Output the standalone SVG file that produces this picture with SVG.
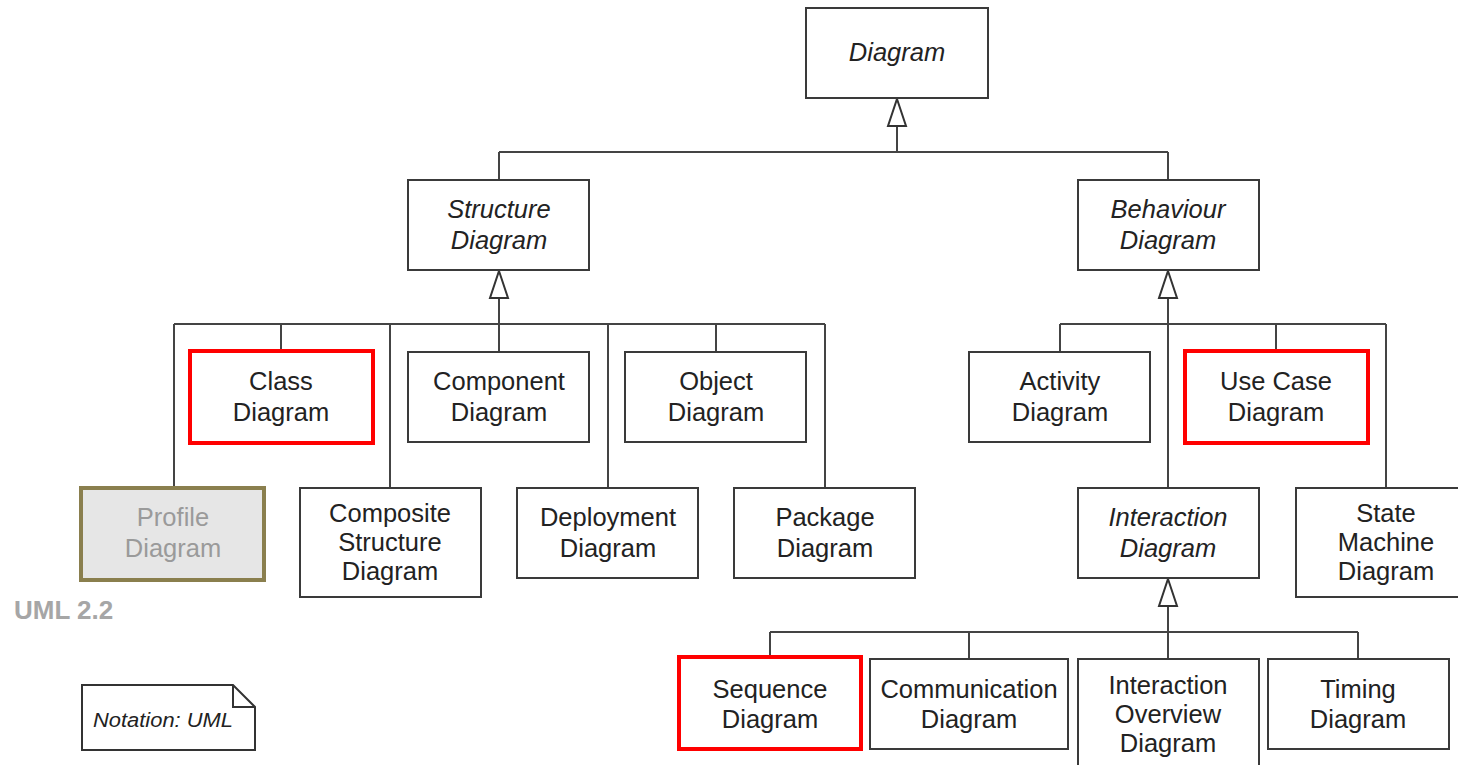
<svg xmlns="http://www.w3.org/2000/svg" width="1458" height="765" viewBox="0 0 1458 765">
<style>
.b{fill:#fff;stroke:#3a3a3a;stroke-width:2}
.r{fill:#fff;stroke:#f00;stroke-width:4}
.t{font-family:"Liberation Sans",Arial,sans-serif;font-size:25.5px;fill:#222;text-anchor:middle}
.i{font-style:italic}
.c{fill:none;stroke:#444;stroke-width:2}
.h{fill:#fff;stroke:#333;stroke-width:2}
</style>
<rect width="1458" height="765" fill="#fff"/>
<g id="connectors">
<path class="c" d="M897 126V152M499 152H1168M499 152V180M1168 152V180"/>
<path class="h" d="M897 99L906 126H888Z"/>
<path class="c" d="M499 298V324M174 324H825M174 324V488M281 324V351M390 324V488M499 324V352M608 324V488M716 324V352M825 324V488"/>
<path class="h" d="M499 271L508 298H490Z"/>
<path class="c" d="M1168 298V488M1060 324H1386M1060 324V352M1276 324V351M1386 324V488"/>
<path class="h" d="M1168 271L1177 298H1159Z"/>
<path class="c" d="M1168 606V659M770 632H1358M770 632V657M969 632V659M1358 632V659"/>
<path class="h" d="M1168 579L1177 606H1159Z"/>
</g>
<g id="diagram"><rect class="b" x="806" y="8" width="182" height="90"/><text class="t i" x="897" y="61">Diagram</text></g>
<g id="structure"><rect class="b" x="408" y="180" width="181" height="90"/><text class="t i" x="499" y="218">Structure</text><text class="t i" x="499" y="249">Diagram</text></g>
<g id="behaviour"><rect class="b" x="1078" y="180" width="181" height="90"/><text class="t i" x="1168" y="218">Behaviour</text><text class="t i" x="1168" y="249">Diagram</text></g>
<g id="class"><rect class="r" x="190" y="351" width="183" height="92"/><text class="t" x="281" y="390">Class</text><text class="t" x="281" y="421">Diagram</text></g>
<g id="component"><rect class="b" x="408" y="352" width="181" height="90"/><text class="t" x="499" y="390">Component</text><text class="t" x="499" y="421">Diagram</text></g>
<g id="object"><rect class="b" x="625" y="352" width="181" height="90"/><text class="t" x="716" y="390">Object</text><text class="t" x="716" y="421">Diagram</text></g>
<g id="profile"><rect x="81" y="488" width="183" height="92" fill="#e6e6e6" stroke="#8a7f4e" stroke-width="4"/><text class="t" style="fill:#9a9a9a" x="173" y="526">Profile</text><text class="t" style="fill:#9a9a9a" x="173" y="557">Diagram</text></g>
<g id="composite"><rect class="b" x="300" y="488" width="181" height="109"/><text class="t" x="390" y="522">Composite</text><text class="t" x="390" y="551">Structure</text><text class="t" x="390" y="580">Diagram</text></g>
<g id="deployment"><rect class="b" x="517" y="488" width="181" height="90"/><text class="t" x="608" y="526">Deployment</text><text class="t" x="608" y="557">Diagram</text></g>
<g id="package"><rect class="b" x="734" y="488" width="181" height="90"/><text class="t" x="825" y="526">Package</text><text class="t" x="825" y="557">Diagram</text></g>
<g id="activity"><rect class="b" x="969" y="352" width="181" height="90"/><text class="t" x="1060" y="390">Activity</text><text class="t" x="1060" y="421">Diagram</text></g>
<g id="usecase"><rect class="r" x="1185" y="351" width="183" height="92"/><text class="t" x="1276" y="390">Use Case</text><text class="t" x="1276" y="421">Diagram</text></g>
<g id="interaction"><rect class="b" x="1078" y="488" width="181" height="90"/><text class="t i" x="1168" y="526">Interaction</text><text class="t i" x="1168" y="557">Diagram</text></g>
<g id="statemachine"><rect class="b" x="1296" y="488" width="170" height="109"/><text class="t" x="1386" y="522">State</text><text class="t" x="1386" y="551">Machine</text><text class="t" x="1386" y="580">Diagram</text></g>
<g id="sequence"><rect class="r" x="679" y="657" width="182" height="92"/><text class="t" x="770" y="698">Sequence</text><text class="t" x="770" y="728">Diagram</text></g>
<g id="communication"><rect class="b" x="870" y="659" width="198" height="90"/><text class="t" x="969" y="698">Communication</text><text class="t" x="969" y="728">Diagram</text></g>
<g id="overview"><rect class="b" x="1078" y="659" width="181" height="120"/><text class="t" x="1168" y="694">Interaction</text><text class="t" x="1168" y="723">Overview</text><text class="t" x="1168" y="752">Diagram</text></g>
<g id="timing"><rect class="b" x="1268" y="659" width="181" height="90"/><text class="t" x="1358" y="698">Timing</text><text class="t" x="1358" y="728">Diagram</text></g>
<g id="uml22"><text x="14" y="619" font-family="Liberation Sans,Arial,sans-serif" font-size="26" font-weight="bold" fill="#a6a6a6">UML 2.2</text></g>
<g id="note"><path d="M82 685H233L255 707V750H82Z" fill="#fff" stroke="#333" stroke-width="2"/><path d="M233 685V707H255" fill="none" stroke="#333" stroke-width="2"/><text x="93" y="727" font-family="Liberation Sans,Arial,sans-serif" font-size="20" font-style="italic" fill="#222" textLength="140" lengthAdjust="spacingAndGlyphs">Notation: UML</text></g>
</svg>
